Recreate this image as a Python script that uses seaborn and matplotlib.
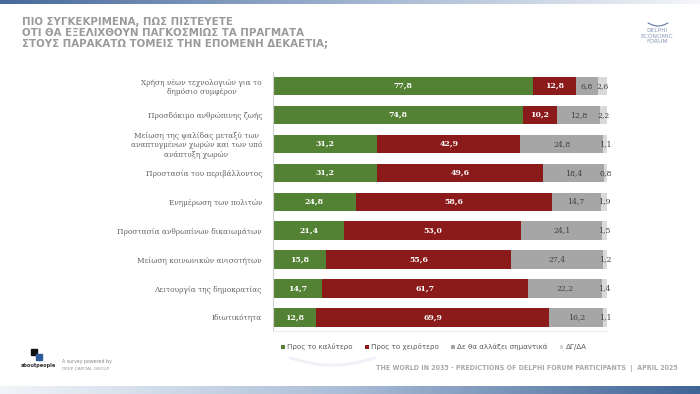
import numpy as np
import pandas as pd
import matplotlib
matplotlib.use("Agg")
import matplotlib.pyplot as plt
import seaborn as sns
from matplotlib.patches import Patch, Rectangle
from matplotlib.colors import LinearSegmentedColormap

categories = [
    "Χρήση νέων τεχνολογιών για το\nδημόσιο συμφέρον",
    "Προσδόκιμο ανθρώπινης ζωής",
    "Μείωση της ψαλίδας μεταξύ των\nαναπτυγμένων χωρών και των υπό\nανάπτυξη χωρών",
    "Προστασία του περιβάλλοντος",
    "Ενημέρωση των πολιτών",
    "Προστασία ανθρωπίνων δικαιωμάτων",
    "Μείωση κοινωνικών ανισοτήτων",
    "Λειτουργία της δημοκρατίας",
    "Ιδιωτικότητα",
]
better = [77.8, 74.8, 31.2, 31.2, 24.8, 21.4, 15.8, 14.7, 12.8]
worse = [12.8, 10.2, 42.9, 49.6, 58.6, 53.0, 55.6, 61.7, 69.9]
no_change = [6.8, 12.8, 24.8, 18.4, 14.7, 24.1, 27.4, 22.2, 16.2]
dk_na = [2.6, 2.2, 1.1, 0.8, 1.9, 1.5, 1.2, 1.4, 1.1]
series_names = ["Προς το καλύτερο", "Προς το χειρότερο", "Δε θα αλλάξει σημαντικά", "ΔΓ/ΔΑ"]
colors = ["#548235", "#8B1A1A", "#A6A6A6", "#D9D9D9"]
label_colors = ["white", "white", "#404040", "#404040"]

title = "ΠΙΟ ΣΥΓΚΕΚΡΙΜΕΝΑ, ΠΩΣ ΠΙΣΤΕΥΕΤΕ\nΟΤΙ ΘΑ ΕΞΕΛΙΧΘΟΥΝ ΠΑΓΚΟΣΜΙΩΣ ΤΑ ΠΡΑΓΜΑΤΑ\nΣΤΟΥΣ ΠΑΡΑΚΑΤΩ ΤΟΜΕΙΣ ΤΗΝ ΕΠΟΜΕΝΗ ΔΕΚΑΕΤΙΑ;"
footer = "THE WORLD IN 2035 - PREDICTIONS OF DELPHI FORUM PARTICIPANTS  |  APRIL 2025"

sns.set_style("white")
plt.rcParams["font.family"] = ["DejaVu Sans"]

vals = np.array([better, worse, no_change, dk_na])
cum = np.cumsum(vals, axis=0)

fig = plt.figure(figsize=(7, 3.94), dpi=100)
fig.patch.set_facecolor("white")

# decorative gradient strips
bg = fig.add_axes([0, 0, 1, 1], zorder=-5)
bg.set_xlim(0, 1); bg.set_ylim(0, 1); bg.axis("off")
grad = np.linspace(0, 1, 256).reshape(1, -1)
cm_bot = LinearSegmentedColormap.from_list("b", ["#f2f5f9", "#a9bcd6", "#3f6496"])
cm_top = LinearSegmentedColormap.from_list("t", ["#47699b", "#9fb3cf", "#f4f6f9"])
bg.imshow(grad, extent=[0, 1, 0, 8 / 394], cmap=cm_bot, aspect="auto")
bg.imshow(grad, extent=[0, 1, 1 - 4 / 394, 1], cmap=cm_top, aspect="auto")
# faint swoosh
xs = np.linspace(290 / 700, 375 / 700, 60)
ys = 1 - (358 + 8 * np.sin((xs - xs[0]) / (xs[-1] - xs[0]) * np.pi) * 0.9) / 394
bg.plot(xs, ys, color="#eef2f7", lw=2.0, solid_capstyle="round")

ax = fig.add_axes([273 / 700, 63 / 394, 334 / 700, 259 / 394])
df = pd.DataFrame({"cat": categories})
for i in range(3, -1, -1):
    df["v"] = cum[i]
    sns.barplot(data=df, y="cat", x="v", orient="h", color=colors[i],
                width=0.63, ax=ax, saturation=1, edgecolor="none", linewidth=0)

for i in range(4):
    starts = cum[i] - vals[i]
    for j, (s, v) in enumerate(zip(starts, vals[i])):
        txt = f"{v:.1f}".replace(".", ",")
        ax.text(s + v / 2, j, txt, ha="center", va="center",
                color=label_colors[i], fontsize=5.6,
                fontweight="bold" if i < 2 else "normal",
                family="DejaVu Serif")

ax.set_xlim(0, 100)
ax.set_ylim(8.47, -0.48)
ax.set_xlabel(""); ax.set_ylabel("")
ax.set_xticks([])
ax.tick_params(axis="y", length=0, pad=8)
for lab in ax.get_yticklabels():
    lab.set_fontsize(5.3)
    lab.set_color("#606060")
    lab.set_family("DejaVu Serif")
    lab.set_multialignment("center")
for s in ["top", "right"]:
    ax.spines[s].set_visible(False)
ax.spines["left"].set_color("#d0d0d0"); ax.spines["left"].set_linewidth(0.8)
ax.spines["bottom"].set_color("#ececec"); ax.spines["bottom"].set_linewidth(0.8)

handles = [Patch(facecolor=c, edgecolor="none") for c in colors]
fig.legend(handles, series_names, loc="center", ncol=4,
           bbox_to_anchor=(434 / 700, 1 - 347 / 394), frameon=False,
           fontsize=5.1, handlelength=0.55, handleheight=0.55,
           handletextpad=0.3, columnspacing=1.7, labelcolor="#595959")

fig.text(22 / 700, 1 - 17 / 394, title, ha="left", va="top",
         fontsize=8.2, fontweight="bold", color="#9a9a9a",
         family="DejaVu Sans", fontstretch="condensed", linespacing=1.15)

# Delphi logo
fig.text(657 / 700, 1 - 36 / 394, "DELPHI\nECONOMIC\nFORUM", ha="center", va="center",
         fontsize=4.2, color="#8a9cba", linespacing=1.1)
lx = np.linspace(648 / 700, 668 / 700, 30)
ly = 1 - (23 + 3 * np.sin((lx - lx[0]) / (lx[-1] - lx[0]) * np.pi)) / 394
bg.plot(lx, ly, color="#5a78a8", lw=0.8)

# aboutpeople logo
bg.add_patch(Rectangle((31 / 700, 1 - 355 / 394), 6 / 700, 6 / 394, color="#111111"))
bg.add_patch(Rectangle((36 / 700, 1 - 360 / 394), 6 / 700, 6 / 394, color="#2d5a9a"))
fig.text(38 / 700, 1 - 366 / 394, "aboutpeople", ha="center", va="center",
         fontsize=3.6, fontweight="bold", color="#333333")
fig.text(62 / 700, 1 - 362 / 394, "A survey powered by", ha="left", va="center",
         fontsize=3.4, color="#888888")
fig.text(62 / 700, 1 - 369 / 394, "DEEP CAPITAL GROUP", ha="left", va="center",
         fontsize=3.2, color="#999999")

fig.text(678 / 700, 1 - 369 / 394, footer, ha="right", va="center",
         fontsize=5.0, fontweight="bold", color="#a8a8a8",
         fontstretch="condensed")

fig.savefig("out.png", dpi=100, facecolor="white")
